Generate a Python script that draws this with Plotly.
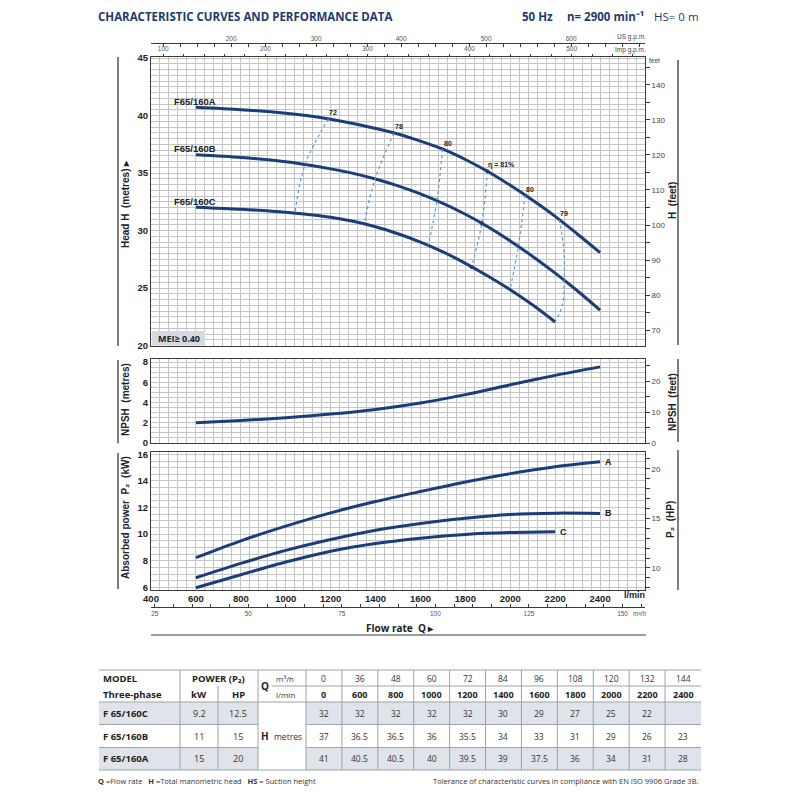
import plotly.graph_objects as go

# ---------------- data ----------------
flow_head_AB = [600, 800, 1000, 1100, 1200, 1300, 1400, 1500, 1600, 1700, 1800, 1900, 2000, 2100, 2200, 2300, 2400]
head_A = [40.72, 40.51, 40.2, 39.98, 39.68, 39.31, 38.88, 38.4, 37.78, 37.08, 36.18, 35.13, 33.93, 32.63, 31.23, 29.68, 28.08]
head_B = [36.58, 36.35, 35.98, 35.7, 35.36, 34.97, 34.48, 33.88, 33.18, 32.36, 31.42, 30.33, 29.1, 27.75, 26.3, 24.74, 23.07]
flow_head_C = [600, 800, 1000, 1100, 1200, 1300, 1400, 1500, 1600, 1700, 1800, 1900, 2000, 2100, 2200]
head_C = [32.03, 31.85, 31.6, 31.4, 31.15, 30.8, 30.33, 29.72, 29.0, 28.15, 27.15, 26.05, 24.85, 23.52, 22.05]
curve_names = ["F65/160A", "F65/160B", "F65/160C"]

eff_labels = ["72", "78", "80", "\u03b7 = 81%", "80", "79"]
eff_flow = [[1190, 1086, 1041], [1482, 1398, 1349], [1699, 1673, 1635],
            [1898, 1873, 1828], [2066, 2036, 1999], [2219, 2238, 2240, 2232, 2200]]
eff_head = [[39.71, 35.74, 31.52], [38.49, 34.49, 30.57], [37.09, 32.58, 28.7],
            [35.15, 30.63, 26.84], [33.07, 28.64, 24.86], [30.94, 28.4, 25.7, 23.5, 22.05]]

npsh_flow = [600, 800, 1000, 1200, 1400, 1600, 1800, 2000, 2200, 2400]
npsh_m = [2.0, 2.22, 2.5, 2.86, 3.32, 3.95, 4.78, 5.75, 6.68, 7.52]

power_flow_AB = [600, 800, 1000, 1200, 1400, 1600, 1800, 2000, 2200, 2400]
power_A = [8.23, 9.5, 10.6, 11.6, 12.45, 13.2, 13.92, 14.55, 15.07, 15.44]
power_B = [6.72, 7.8, 8.78, 9.6, 10.3, 10.8, 11.2, 11.48, 11.58, 11.56]
power_flow_C = [600, 800, 1000, 1200, 1400, 1600, 1800, 2000, 2200]
power_C = [5.97, 6.95, 7.9, 8.72, 9.3, 9.7, 9.98, 10.12, 10.18]
power_names = ["A", "B", "C"]

x_ticks_lmin = [400, 600, 800, 1000, 1200, 1400, 1600, 1800, 2000, 2200, 2400]

table_models = ["F 65/160C", "F 65/160B", "F 65/160A"]
table_kw = ["9.2", "11", "15"]
table_hp = ["12.5", "15", "20"]
table_q_m3h = ["0", "36", "48", "60", "72", "84", "96", "108", "120", "132", "144"]
table_q_lmin = ["0", "600", "800", "1000", "1200", "1400", "1600", "1800", "2000", "2200", "2400"]
table_head_C = ["32", "32", "32", "32", "32", "30", "29", "27", "25", "22", ""]
table_head_B = ["37", "36.5", "36.5", "36", "35.5", "34", "33", "31", "29", "26", "23"]
table_head_A = ["41", "40.5", "40.5", "40", "39.5", "39", "37.5", "36", "34", "31", "28"]

# ---------------- constants ----------------
L_PER_USG = 3.78541
L_PER_IMPG = 4.54609
FT_PER_M = 3.28084
KW_PER_HP = 0.7457
Q_RANGE = [400, 2600]
H_RANGE = [19.96, 45.09]
NPSH_RANGE = [0, 8.3]
P_RANGE = [5.8, 16.2]

# the page body has an 8px margin; the figure is sized so that it fits the 800px window
OFF = 8
W = 784
def fx(p):
    return (p - OFF) / W
def fy(p):
    return 1 - (p - OFF) / W

CURVE = "#1b3d7a"
EFF = "#4a95cf"
GRID = "#c4c4c4"
BORDER = "#3a3a3a"
NAVY = "#1d3a6f"
TXT = "#222222"
NARROW = "Liberation Sans Narrow, Arial Narrow, Liberation Sans, Arial"
SANS = "Liberation Sans, Arial"
OPEN = "Open Sans, Liberation Sans"

fig = go.Figure()

# head curves
for flow, head in [(flow_head_AB, head_A), (flow_head_AB, head_B), (flow_head_C, head_C)]:
    fig.add_trace(go.Scatter(x=flow, y=head, mode="lines", xaxis="x", yaxis="y",
                             line=dict(color=CURVE, width=3, shape="spline", smoothing=0.8),
                             hoverinfo="skip", showlegend=False))
# efficiency iso-lines
for i, (qf, hh) in enumerate(zip(eff_flow, eff_head)):
    fig.add_trace(go.Scatter(x=qf, y=hh, mode="lines+markers" if i == 3 else "lines",
                             xaxis="x", yaxis="y",
                             line=dict(color=EFF, width=1.1, dash="dot", shape="spline"),
                             marker=dict(size=4, color=CURVE),
                             hoverinfo="skip", showlegend=False))
# npsh
fig.add_trace(go.Scatter(x=npsh_flow, y=npsh_m, mode="lines", xaxis="x2", yaxis="y2",
                         line=dict(color=CURVE, width=3, shape="spline", smoothing=0.8),
                         hoverinfo="skip", showlegend=False))
# power
for flow, pw in [(power_flow_AB, power_A), (power_flow_AB, power_B), (power_flow_C, power_C)]:
    fig.add_trace(go.Scatter(x=flow, y=pw, mode="lines", xaxis="x3", yaxis="y3",
                             line=dict(color=CURVE, width=3, shape="spline", smoothing=0.8),
                             hoverinfo="skip", showlegend=False))
# dummy traces so that the secondary unit axes get drawn
for xa, ya in [("x4", "y"), ("x5", "y"), ("x6", "y3"), ("x", "y4"), ("x2", "y5"), ("x3", "y6")]:
    fig.add_trace(go.Scatter(x=[None], y=[None], xaxis=xa, yaxis=ya, mode="markers",
                             hoverinfo="skip", showlegend=False))

XDOM = [fx(151), fx(645)]
bold_tick = dict(family=NARROW, size=9.5, color=TXT, weight="bold")
small_tick = dict(family=NARROW, size=8, color="#444")
tiny_tick = dict(family=NARROW, size=6.5, color="#555")

def main_x(anchor, labels):
    d = dict(domain=XDOM, range=Q_RANGE, anchor=anchor, tickmode="array", tickvals=x_ticks_lmin,
             showticklabels=labels, ticks="", showgrid=True, gridcolor=GRID, gridwidth=0.8,
             minor=dict(dtick=40, tick0=0, showgrid=True, gridcolor=GRID, gridwidth=0.8),
             showline=True, mirror=True, linecolor=BORDER, linewidth=1, zeroline=False,
             automargin=False, tickfont=bold_tick, fixedrange=True)
    return d

def main_y(dom, rng, dtick, anchor):
    return dict(domain=dom, range=rng, anchor=anchor, dtick=dtick, tick0=0, ticks="",
                showgrid=True, gridcolor=GRID, gridwidth=0.8,
                minor=dict(dtick=0.5, tick0=0, showgrid=True, gridcolor=GRID, gridwidth=0.8),
                showline=True, mirror=True, linecolor=BORDER, linewidth=1, zeroline=False,
                automargin=False, tickfont=bold_tick, fixedrange=True)

def unit_y(over, anchor, rng, dtick, mdtick):
    return dict(overlaying=over, anchor=anchor, side="right", range=rng, dtick=dtick, tick0=0,
                ticks="outside", ticklen=4, tickcolor=BORDER, tickwidth=0.8,
                minor=dict(dtick=mdtick, tick0=0, ticks="outside", ticklen=4, tickcolor=BORDER, tickwidth=0.8),
                showgrid=False, showline=False, zeroline=False, automargin=False,
                tickfont=small_tick, fixedrange=True)

def unit_x(over, pos, side, ticks, rng, dtick, mdtick, line):
    return dict(overlaying=over, anchor="free", position=pos, side=side, range=rng,
                dtick=dtick, tick0=0, ticks=ticks, ticklen=3, tickcolor=BORDER, tickwidth=0.8,
                minor=dict(dtick=mdtick, tick0=0, ticks=ticks, ticklen=3, tickcolor=BORDER, tickwidth=0.8),
                showgrid=False, showline=line, linecolor=BORDER, linewidth=1, zeroline=False,
                automargin=False, tickfont=tiny_tick, fixedrange=True)

x3 = main_x("y3", True)
x3["ticklabelstandoff"] = 0
fig.update_layout(
    width=W, height=W, template="none",
    margin=dict(l=0, r=0, t=0, b=0), paper_bgcolor="white", plot_bgcolor="white",
    showlegend=False, hovermode=False,
    xaxis=main_x("y", False),
    xaxis2=dict(main_x("y2", False), matches="x"),
    xaxis3=dict(x3, matches="x"),
    yaxis=main_y([fy(346), fy(57)], H_RANGE, 5, "x"),
    yaxis2=main_y([fy(443), fy(359)], NPSH_RANGE, 2, "x2"),
    yaxis3=main_y([fy(590), fy(451.7)], P_RANGE, 2, "x3"),
    yaxis4=unit_y("y", "x", [H_RANGE[0] * FT_PER_M, H_RANGE[1] * FT_PER_M], 10, 5),
    yaxis5=unit_y("y2", "x2", [NPSH_RANGE[0] * FT_PER_M, NPSH_RANGE[1] * FT_PER_M], 10, 5),
    yaxis6=unit_y("y3", "x3", [P_RANGE[0] / KW_PER_HP, P_RANGE[1] / KW_PER_HP], 5, 1),
    xaxis4=unit_x("x", fy(43.3), "top", "inside", [Q_RANGE[0] / L_PER_USG, Q_RANGE[1] / L_PER_USG], 100, 20, True),
    xaxis5=unit_x("x", fy(57), "top", "outside", [Q_RANGE[0] / L_PER_IMPG, Q_RANGE[1] / L_PER_IMPG], 100, 20, False),
    xaxis6=unit_x("x3", fy(607), "bottom", "inside", [Q_RANGE[0] * 0.06, Q_RANGE[1] * 0.06], 25, 5, True),
)

ann = []
shapes = []

def text(xp, yp, s, size=9, family=SANS, color=TXT, bold=False, xanchor="left", angle=0, yanchor="middle"):
    if s == "":
        return
    ann.append(dict(x=fx(xp), y=fy(yp), xref="paper", yref="paper", text=s, showarrow=False,
                    xanchor=xanchor, yanchor=yanchor, textangle=angle, borderpad=0,
                    font=dict(family=family, size=size, color=color, weight="bold" if bold else "normal")))

def hline(x0, x1, y, color=BORDER, width=1):
    shapes.append(dict(type="line", xref="paper", yref="paper", x0=fx(x0), x1=fx(x1), y0=fy(y), y1=fy(y),
                       line=dict(color=color, width=width)))

def vline(x, y0, y1, color=BORDER, width=1):
    shapes.append(dict(type="line", xref="paper", yref="paper", x0=fx(x), x1=fx(x), y0=fy(y0), y1=fy(y1),
                       line=dict(color=color, width=width)))

# header (kept inside the figure's top edge)
text(97, 8.5, "CHARACTERISTIC CURVES AND PERFORMANCE DATA", size=11.5, family=OPEN, color=NAVY, bold=True, yanchor="top")
text(521, 8.5, "50 Hz", size=11.5, family=OPEN, color=NAVY, bold=True, yanchor="top")
text(566, 8.5, "n= 2900 min\u207b\u00b9", size=11.5, family=OPEN, color=NAVY, bold=True, yanchor="top")
text(653, 8.5, "HS= 0 m", size=11.5, family=OPEN, color=NAVY, yanchor="top")

# unit labels
text(647, 37, "US g.p.m.", size=6.5, family=NARROW, color="#444", xanchor="right")
text(647, 50, "Imp g.p.m.", size=6.5, family=NARROW, color="#444", xanchor="right")
text(648, 60, "feet", size=6.5, family=NARROW, color="#444")
text(646, 595, "l/min", size=9, family=NARROW, color=TXT, bold=True, xanchor="right")
text(647, 613, "m\u00b3/h", size=6.5, family=NARROW, color="#555", xanchor="right")
text(400, 628, "Flow rate  Q \u25b8", size=10, family=OPEN, color=TXT, bold=True, xanchor="center")
hline(151, 646, 635, width=1.2)

# axis titles
text(125, 204, "Head H  (metres) \u25b8", size=10, bold=True, xanchor="center", angle=-90)
text(672, 201, "H  (feet)", size=10, bold=True, xanchor="center", angle=-90)
text(125, 400, "NPSH  (metres)", size=10, bold=True, xanchor="center", angle=-90)
text(672, 402, "NPSH  (feet)", size=10, bold=True, xanchor="center", angle=-90)
text(125, 518, "Absorbed power  P\u2082  (kW)", size=10, bold=True, xanchor="center", angle=-90)
text(671, 520, "P\u2082  (HP)", size=10, bold=True, xanchor="center", angle=-90)

# side bracket lines
for y0, y1 in [(57, 346), (360, 443.5), (453, 589)]:
    vline(118, y0, y1, width=1.3)
for y0, y1 in [(60, 345), (359, 442), (450, 590)]:
    vline(678, y0, y1, width=1.3)

# MEI box
shapes.append(dict(type="rect", xref="paper", yref="paper", x0=fx(152), x1=fx(205), y0=fy(345.5), y1=fy(331),
                   fillcolor="#d5dbe2", line=dict(width=0), layer="above"))
text(178.5, 338.5, "MEI\u2265 0.40", size=9, family=OPEN, bold=True, xanchor="center")

# curve labels (data anchored)
for name, flow, head in [(curve_names[0], flow_head_AB, head_A), (curve_names[1], flow_head_AB, head_B),
                         (curve_names[2], flow_head_C, head_C)]:
    ann.append(dict(x=flow[0], y=head[0], xref="x", yref="y", text=name, showarrow=False,
                    xanchor="center", yanchor="middle", yshift=6, xshift=-1,
                    font=dict(family=NARROW, size=9.5, color=TXT, weight="bold")))
for lab, qf, hh in zip(eff_labels, eff_flow, eff_head):
    ann.append(dict(x=qf[0], y=hh[0], xref="x", yref="y", text=lab, showarrow=False,
                    xanchor="left", yanchor="middle", yshift=6, xshift=-1,
                    font=dict(family=SANS, size=7, color=TXT, weight="bold")))
for name, flow, pw in [(power_names[0], power_flow_AB, power_A), (power_names[1], power_flow_AB, power_B),
                       (power_names[2], power_flow_C, power_C)]:
    ann.append(dict(x=flow[-1], y=pw[-1], xref="x3", yref="y3", text=name, showarrow=False,
                    xanchor="left", yanchor="middle", xshift=3,
                    font=dict(family=NARROW, size=9, color=TXT, weight="bold")))

# ---------------- table ----------------
TLINE = "#9aa3ad"
TFILL = "#dfe4ea"
ncol = len(table_q_m3h)
cw = (701 - 306) / ncol
num_x = [306 + cw * i for i in range(ncol + 1)]
rows_y = [670, 686, 702, 724.5, 747.5, 770]
body_vals = [table_head_C, table_head_B, table_head_A]

for r in (0, 2):
    y0, y1 = rows_y[2 + r], rows_y[3 + r]
    for xa, xb in [(99, 258), (306, 701)]:
        shapes.append(dict(type="rect", xref="paper", yref="paper", x0=fx(xa), x1=fx(xb), y0=fy(y1), y1=fy(y0),
                           fillcolor=TFILL, line=dict(width=0), layer="below"))
hline(99, 701, rows_y[0], TLINE)
hline(272, 701, rows_y[1], TLINE)
hline(99, 701, rows_y[2], TLINE)
for yy in (rows_y[3], rows_y[4]):
    hline(99, 258, yy, TLINE)
    hline(306, 701, yy, TLINE)
hline(99, 701, rows_y[5], TLINE)
vline(180, rows_y[0], rows_y[5], TLINE)
vline(218, rows_y[1], rows_y[5], TLINE)
vline(258, rows_y[0], rows_y[5], TLINE)
for xv in num_x[:-1]:
    vline(xv, rows_y[0], rows_y[5], TLINE)

r1 = (rows_y[0] + rows_y[1]) / 2
r2 = (rows_y[1] + rows_y[2]) / 2
text(102, r1, "MODEL", size=9.5, family=OPEN, bold=True)
text(102, r2, "Three-phase", size=9.5, family=OPEN, bold=True)
text(218, r1, "POWER (P\u2082)", size=9.5, family=OPEN, bold=True, xanchor="center")
text(199, r2, "kW", size=9.5, family=OPEN, bold=True, xanchor="center")
text(238, r2, "HP", size=9.5, family=OPEN, bold=True, xanchor="center")
text(260, (r1 + r2) / 2, "Q", size=10, family=OPEN, bold=True)
text(275, r1, "m\u00b3/h", size=8, family=OPEN, color="#333")
text(275, r2, "l/min", size=8, family=OPEN, color="#333")
for i in range(ncol):
    cx = (num_x[i] + num_x[i + 1]) / 2
    text(cx, r1, table_q_m3h[i], size=8.5, family=OPEN, color="#333", xanchor="center")
    text(cx, r2, table_q_lmin[i], size=9, family=OPEN, bold=True, xanchor="center")
for r in range(3):
    cy = (rows_y[2 + r] + rows_y[3 + r]) / 2
    text(102, cy, table_models[r], size=9.5, family=OPEN, bold=True)
    text(199, cy, table_kw[r], size=9, family=OPEN, color="#333", xanchor="center")
    text(238, cy, table_hp[r], size=9, family=OPEN, color="#333", xanchor="center")
    for i in range(ncol):
        cx = (num_x[i] + num_x[i + 1]) / 2
        text(cx, cy, body_vals[r][i], size=8.5, family=OPEN, color="#333", xanchor="center")
mid = (rows_y[3] + rows_y[4]) / 2
text(260, mid, "H", size=10, family=OPEN, bold=True)
text(273, mid, "metres", size=8.5, family=OPEN, color="#333")

text(97, 781, "<b>Q</b> =Flow rate\u00a0\u00a0 <b>H</b> =Total manometric head\u00a0\u00a0 <b>HS</b> = Suction height",
     size=7.5, family=OPEN, color="#333")
text(699, 781, "Tolerance of characteristic curves in compliance with EN ISO 9906 Grade 3B.",
     size=7.5, family=OPEN, color="#333", xanchor="right")

fig.update_layout(annotations=ann, shapes=shapes)
fig.write_html("out.html")
